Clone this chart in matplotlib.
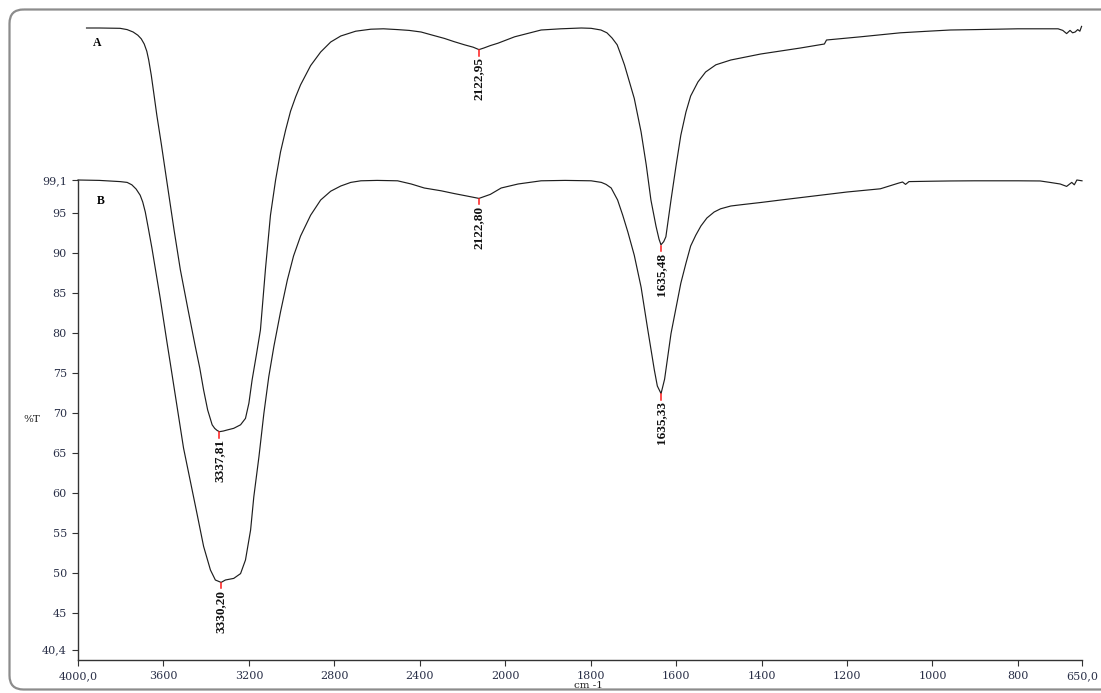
import numpy as np
import matplotlib
matplotlib.use('Agg')
import matplotlib.pyplot as plt
from matplotlib.patches import FancyBboxPatch

# ---------------- data ----------------
wn_A = [3960, 3900, 3803, 3770, 3742, 3720, 3704, 3690, 3678, 3669, 3657, 3646, 3631,
        3610, 3584, 3550, 3521, 3485, 3451, 3430, 3412, 3393, 3372, 3360, 3349, 3338,
        3320, 3302, 3271, 3239, 3216, 3200, 3185, 3164, 3146, 3122, 3099, 3075, 3052,
        3028, 3005, 2981, 2958, 2911, 2864, 2817, 2770, 2700, 2629, 2570, 2504, 2450,
        2394, 2340, 2285, 2240, 2191, 2150, 2123, 2100, 2070, 2034, 1978, 1916, 1870,
        1822, 1799, 1776, 1762, 1750, 1738, 1729, 1721, 1698, 1682, 1670, 1659, 1647,
        1640, 1635.5, 1629, 1624, 1612, 1600, 1589, 1577, 1566, 1549, 1531, 1507, 1472,
        1402, 1309, 1253, 1248, 1168, 1075, 1010, 958, 900, 850, 800, 750, 706, 695,
        686, 678, 672, 666, 660, 655, 651]
T_A = [118.1, 118.1, 118.06, 117.9, 117.6, 117.2, 116.75, 116.1, 115.2, 114.1, 112.2, 110.1, 107.2,
       103.6, 98.9, 92.8, 87.9, 82.9, 78.3, 75.6, 72.85, 70.35, 68.5, 68.05, 67.8, 67.64,
       67.72, 67.85, 68.06, 68.5, 69.3, 71.2, 74.1, 77.4, 80.35, 88.1, 94.7, 99.1, 102.6,
       105.35, 107.7, 109.5, 111.0, 113.4, 115.1, 116.35, 117.1, 117.7, 117.95, 118.0, 117.9, 117.8,
       117.6, 117.2, 116.8, 116.4, 116.0, 115.7, 115.4, 115.6, 115.9, 116.2, 117.0, 117.85, 118.0,
       118.1, 118.06, 117.85, 117.5, 116.85, 116.0, 114.7, 113.5, 109.3, 105.1, 101.0, 96.6, 93.3,
       91.7, 91.0, 91.4, 92.0, 96.6, 100.95, 104.7, 107.6, 109.6, 111.35, 112.6, 113.5, 114.1,
       114.85, 115.6, 116.1, 116.6, 117.0, 117.5, 117.7, 117.85, 117.9, 117.95, 118.0, 118.0, 118.0, 117.8,
       117.4, 117.8, 117.5, 117.6, 117.9, 117.7, 118.3]

wn_B = [4000, 3900, 3803, 3770, 3748, 3728, 3709, 3697, 3685, 3671, 3654, 3615, 3584, 3568,
        3506, 3443, 3412, 3380, 3357, 3330, 3310, 3271, 3239, 3216, 3192, 3177, 3153, 3130,
        3107, 3083, 3052, 3020, 2991, 2958, 2911, 2864, 2817, 2770, 2723, 2676, 2600, 2504,
        2440, 2379, 2300, 2238, 2180, 2123, 2070, 2019, 1970, 1916, 1860, 1799, 1775, 1764,
        1752, 1737, 1725, 1713, 1698, 1682, 1667, 1651, 1644, 1635.3, 1627, 1612, 1589, 1577,
        1566, 1554, 1542, 1528, 1511, 1496, 1472, 1449, 1400, 1355, 1262, 1200, 1122, 1080,
        1070, 1063, 1055, 1000, 958, 900, 800, 748, 725, 701, 686, 674, 668, 662, 650]
T_B = [99.1, 99.05, 98.9, 98.8, 98.5, 97.97, 97.2, 96.35, 95.1, 93.1, 90.6, 84.3, 78.9, 76.2,
       65.6, 57.4, 53.3, 50.35, 49.1, 48.8, 49.1, 49.3, 49.9, 51.6, 55.35, 59.5, 64.5, 69.9,
       74.5, 78.3, 82.6, 86.6, 89.6, 92.1, 94.7, 96.6, 97.7, 98.35, 98.8, 99.0, 99.05, 99.0,
       98.6, 98.1, 97.75, 97.4, 97.1, 96.8, 97.3, 98.1, 98.6, 99.0, 99.05, 99.0, 98.8, 98.55,
       98.1, 96.6, 94.7, 92.6, 89.7, 85.7, 80.6, 75.35, 73.35, 72.4, 74.2, 79.9, 86.2, 88.7,
       90.85, 92.2, 93.35, 94.35, 95.1, 95.5, 95.85, 96.0, 96.3, 96.6, 97.2, 97.6, 98.0, 98.7,
       98.85, 98.55, 98.9, 98.95, 98.98, 99.0, 99.0, 98.98, 98.8, 98.6, 98.3, 98.8, 98.5, 99.1, 99.0]

peaks_A_wn = [3337.81, 2122.95, 1635.48]
peaks_A_T = [67.64, 115.4, 91.0]
peaks_B_wn = [3330.20, 2122.80, 1635.33]
peaks_B_T = [48.8, 96.8, 72.4]

xticks = [4000, 3600, 3200, 2800, 2400, 2000, 1800, 1600, 1400, 1200, 1000, 800, 650]
xticklabels = ['4000,0', '3600', '3200', '2800', '2400', '2000', '1800', '1600',
               '1400', '1200', '1000', '800', '650,0']
yticks = [99.1, 95, 90, 85, 80, 75, 70, 65, 60, 55, 50, 45, 40.4]
yticklabels = ['99,1', '95', '90', '85', '80', '75', '70', '65', '60', '55', '50', '45', '40,4']

# ---------------- figure ----------------
W, H = 1101, 693
fig = plt.figure(figsize=(W / 100, H / 100), dpi=100)
fig.patch.set_facecolor('white')

# rounded outer frame
bg = fig.add_axes([0, 0, 1, 1])
bg.set_xlim(0, W)
bg.set_ylim(H, 0)
bg.axis('off')
bg.add_patch(FancyBboxPatch((9.5, 9.5), 1115, 680,
                            boxstyle='round,pad=0,rounding_size=14',
                            fc='none', ec='#8c8c8c', lw=1.6))

ax = fig.add_axes([78 / W, 33 / H, 1004 / W, 640 / H])
ax.patch.set_alpha(0)


def fwd(x):
    x = np.asarray(x, dtype=float)
    return np.where(x > 2000, 2000 + (x - 2000) / 2.0, x)


def inv(t):
    t = np.asarray(t, dtype=float)
    return np.where(t > 2000, 2000 + (t - 2000) * 2.0, t)


ax.set_xscale('function', functions=(fwd, inv))
ax.set_xlim(4000, 650)
ax.set_ylim(39.1, 119.1)

line_col = '#1e1e1e'
ax.plot(wn_A, T_A, color=line_col, lw=0.85, clip_on=False, solid_joinstyle='round')
ax.plot(wn_B, T_B, color=line_col, lw=0.85, clip_on=False, solid_joinstyle='round')

lab_font = dict(family='Liberation Serif', weight='bold', size=9.5, color='#111111')
for pw, pt in list(zip(peaks_A_wn, peaks_A_T)) + list(zip(peaks_B_wn, peaks_B_T)):
    ax.plot([pw, pw], [pt - 0.1, pt - 0.75], color='#ff1a1a', lw=1.1)
    ax.text(pw, pt - 0.95, f'{pw:.2f}'.replace('.', ','), rotation=90,
            ha='center', va='top', **lab_font)

ax.text(3911, 116.2, 'A', fontdict=dict(family='Liberation Serif', weight='bold', size=8.5),
        ha='center', va='center')
ax.text(3892, 96.5, 'B', fontdict=dict(family='Liberation Serif', weight='bold', size=8.5),
        ha='center', va='center')

# axes styling
for s in ['top', 'right']:
    ax.spines[s].set_visible(False)
ax.spines['left'].set_bounds(39.1, 99.1)
ax.spines['left'].set_color('#333333')
ax.spines['bottom'].set_color('#333333')
ax.spines['left'].set_linewidth(1.0)
ax.spines['bottom'].set_linewidth(1.0)

tick_col = '#2a3048'
ax.set_xticks(xticks)
ax.set_xticklabels(xticklabels)
ax.set_yticks(yticks)
ax.set_yticklabels(yticklabels)
ax.minorticks_off()
ax.tick_params(axis='both', direction='out', length=4, width=0.8, color='#333333',
               labelcolor=tick_col, labelsize=8)
ax.tick_params(axis='x', pad=4)
ax.tick_params(axis='y', pad=4)
for lbl in ax.get_xticklabels() + ax.get_yticklabels():
    lbl.set_family('DejaVu Serif')

fig.text(32 / W, 1 - 420 / H, '%T', ha='center', va='center',
         family='DejaVu Serif', size=7.5, color='#222222')
fig.text(588 / W, 1 - 686 / H, 'cm -1', ha='center', va='center',
         family='DejaVu Serif', size=7.5, color='#222222')

fig.savefig('out.png', dpi=100)
